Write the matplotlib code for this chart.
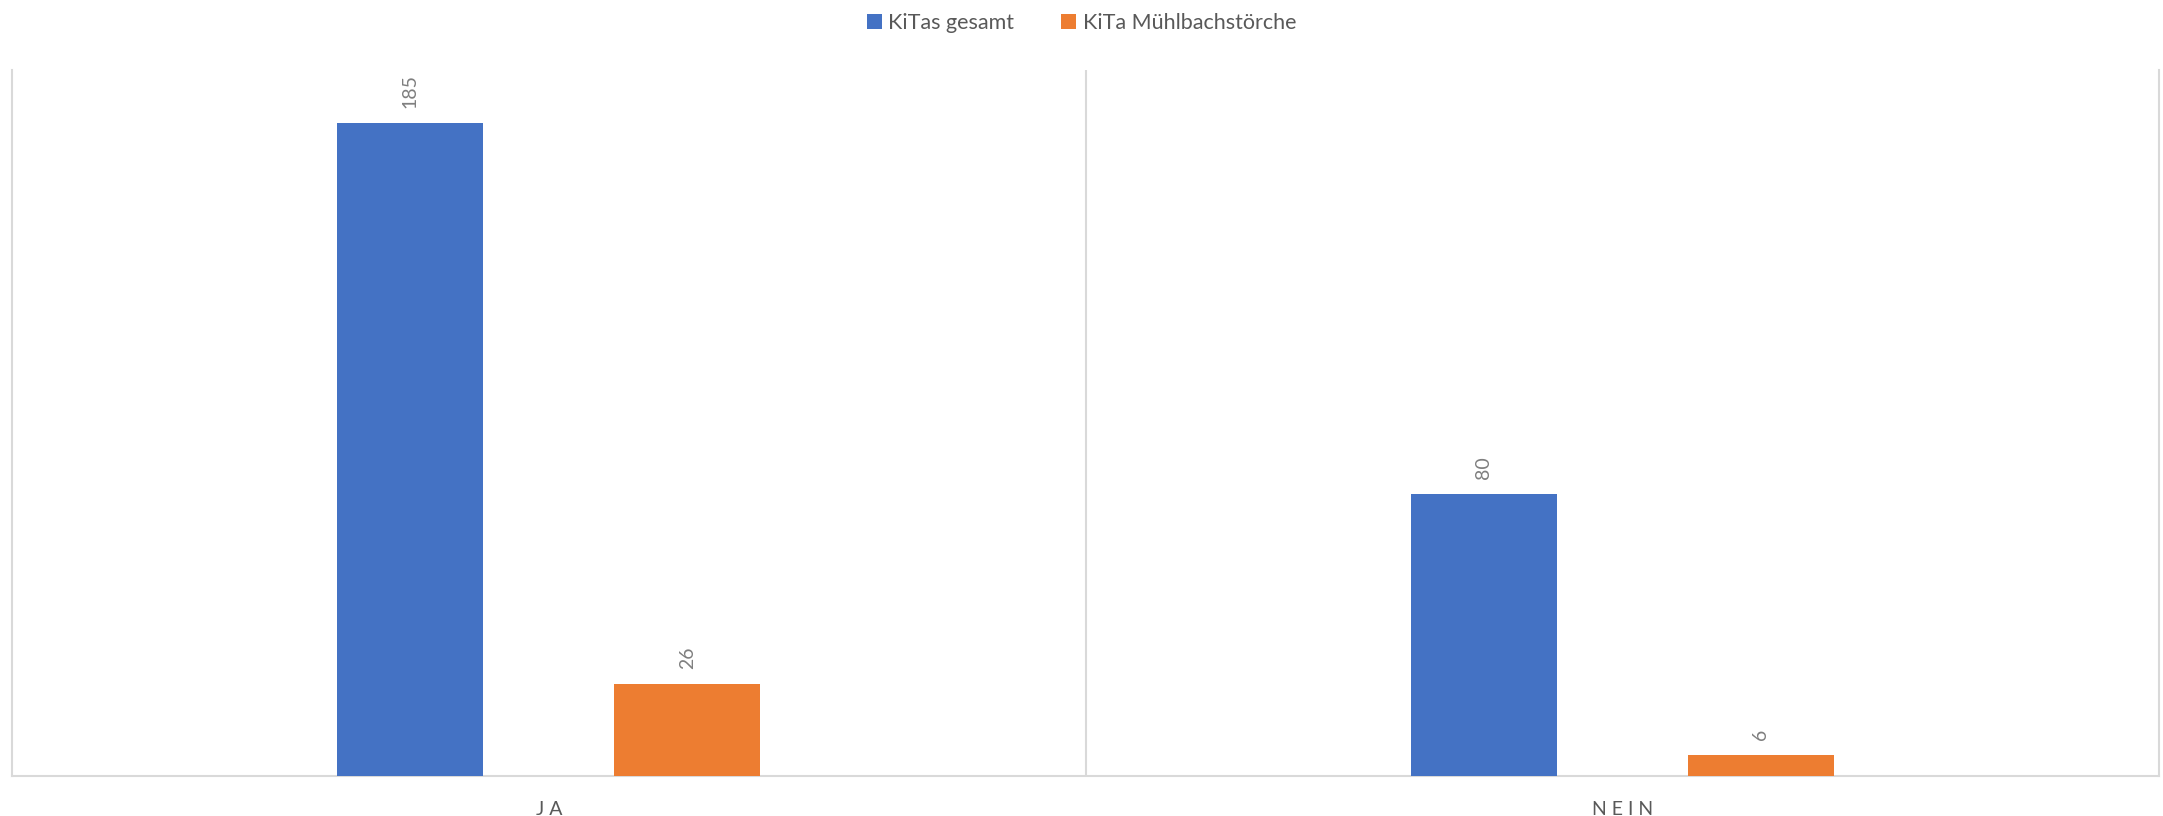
import matplotlib
matplotlib.use("Agg")
import matplotlib.pyplot as plt
import numpy as np

categories = ["J A", "N E I N"]
series_names = ["KiTas gesamt", "KiTa Mühlbachstörche"]
kitas_gesamt = [185, 80]
kita_muehlbach = [26, 6]
colors = ["#4472C4", "#ED7D31"]

plt.rcParams['font.family'] = ['Lato', 'DejaVu Sans']

fig = plt.figure(figsize=(21.63, 8.16), dpi=100)
ax = fig.add_axes([12/2163, 1-776/816, (2159-12)/2163, (776-70)/816])

x = np.arange(len(categories))
w = 0.136
off = 0.129
b1 = ax.bar(x - off, kitas_gesamt, w, color=colors[0], label=series_names[0], zorder=3)
b2 = ax.bar(x + off, kita_muehlbach, w, color=colors[1], label=series_names[1], zorder=3)

for bars in (b1, b2):
    for r in bars:
        ax.annotate(f"{int(r.get_height())}", (r.get_x() + r.get_width()/2, r.get_height()),
                    xytext=(0, 15), textcoords="offset pixels", rotation=90,
                    ha="center", va="bottom", fontsize=14, color="#7F7F7F")

ax.set_xlim(-0.5, 1.5)
ax.set_ylim(0, 200)
ax.set_yticks([])
ax.set_xticks(x)
ax.set_xticklabels(categories, fontsize=14, color="#595959")
ax.tick_params(axis='x', length=0, pad=18)
for s in ["left", "right", "bottom"]:
    ax.spines[s].set_color("#D9D9D9")
    ax.spines[s].set_linewidth(1.5)
ax.spines["top"].set_visible(False)
ax.axvline(0.5, color="#D9D9D9", linewidth=1.5, zorder=1)

fig.legend(handles=[b1, b2], labels=series_names, loc="upper center",
           bbox_to_anchor=(0.5, 1.008), ncol=2, frameon=False, fontsize=15.5,
           labelcolor="#595959", handlelength=0.7, handleheight=0.7,
           columnspacing=2.2, handletextpad=0.3)

fig.savefig("out.png", dpi=100)
